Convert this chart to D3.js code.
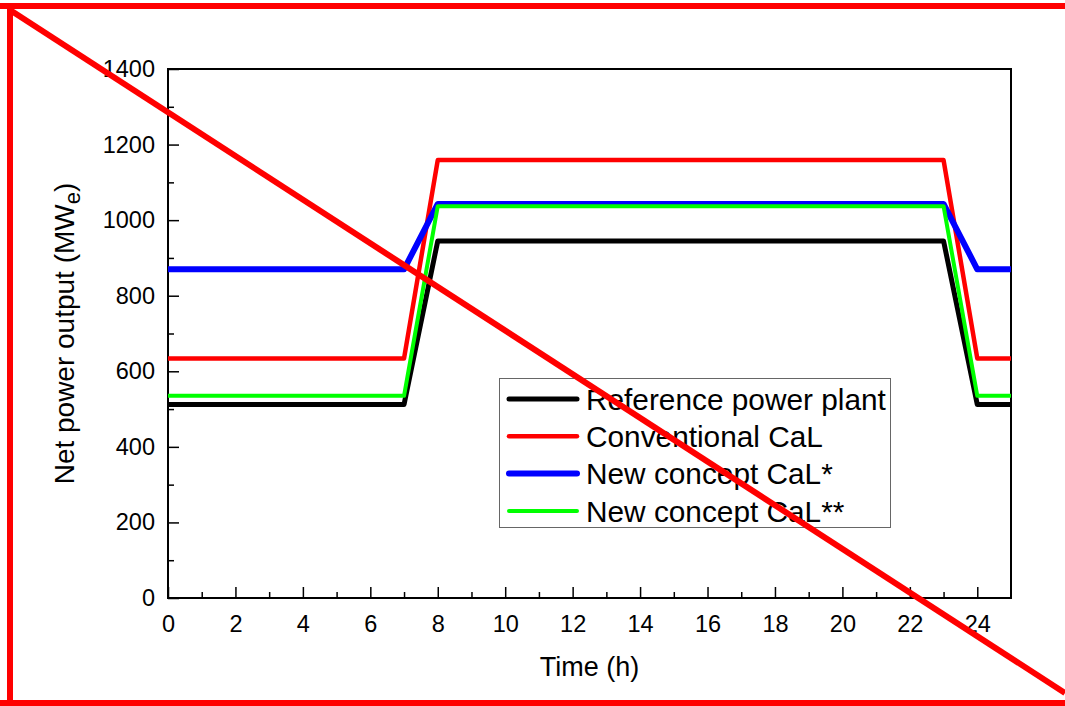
<!DOCTYPE html>
<html>
<head>
<meta charset="utf-8">
<script src="https://cdn.jsdelivr.net/npm/d3@7"></script>
<style>
  body { margin: 0; background: #fff; }
  svg { display: block; font-family: Arial, "Liberation Sans", sans-serif; }
</style>
</head>
<body>
<svg id="chart" width="1065" height="706"></svg>
<script>
// data
const hours = [0, 7, 8, 23, 24, 25];
const referencePlant = [512, 512, 945, 945, 512, 512];
const conventionalCaL = [634, 634, 1159, 1159, 634, 634];
const newConceptCaL1 = [870, 870, 1043, 1043, 870, 870];
const newConceptCaL2 = [535, 535, 1037, 1037, 535, 535];

const seriesNames = ['Reference power plant', 'Conventional CaL', 'New concept CaL*', 'New concept CaL**'];
const seriesColors = ['#000000', '#ff0000', '#0000ff', '#00ff00'];
const seriesWidths = [5, 4.5, 6, 4];
const seriesValues = [referencePlant, conventionalCaL, newConceptCaL1, newConceptCaL2];

const xTicks = [0, 2, 4, 6, 8, 10, 12, 14, 16, 18, 20, 22, 24];
const yTicks = [0, 200, 400, 600, 800, 1000, 1200, 1400];

const width = 1065;
const height = 706;
const margin = { top: 69, right: 54, bottom: 108, left: 168 };

const svg = d3.select('#chart');

const x = d3.scaleLinear().domain([0, 25]).range([margin.left, width - margin.right]);
const y = d3.scaleLinear().domain([0, 1400]).range([height - margin.bottom, margin.top]);

// plot frame
svg.append('rect')
  .attr('x', x(0))
  .attr('y', y(1400))
  .attr('width', x(25) - x(0))
  .attr('height', y(0) - y(1400))
  .attr('fill', 'none')
  .attr('stroke', '#000')
  .attr('stroke-width', 2);

// minor ticks
svg.append('g')
  .attr('transform', `translate(0,${y(0)})`)
  .call(d3.axisBottom(x).tickValues(d3.range(1, 25, 2)).tickSize(-6).tickFormat(''))
  .call(g => g.select('.domain').remove())
  .call(g => g.selectAll('line').attr('stroke-width', 1.5));

svg.append('g')
  .attr('transform', `translate(${x(0)},0)`)
  .call(d3.axisLeft(y).tickValues(d3.range(100, 1400, 200)).tickSize(-6).tickFormat(''))
  .call(g => g.select('.domain').remove())
  .call(g => g.selectAll('line').attr('stroke-width', 1.5));

// major ticks
svg.append('g')
  .attr('transform', `translate(0,${y(0)})`)
  .call(d3.axisBottom(x).tickValues(xTicks).tickSize(-11).tickPadding(17).tickFormat(d3.format('d')))
  .call(g => g.select('.domain').remove())
  .call(g => g.selectAll('line').attr('stroke-width', 1.5))
  .call(g => g.selectAll('text').attr('font-size', 23.5).attr('fill', '#000'));

svg.append('g')
  .attr('transform', `translate(${x(0)},0)`)
  .call(d3.axisLeft(y).tickValues(yTicks).tickSize(-11).tickPadding(13).tickFormat(d3.format('d')))
  .call(g => g.select('.domain').remove())
  .call(g => g.selectAll('line').attr('stroke-width', 1.5))
  .call(g => g.selectAll('text').attr('font-size', 23.5).attr('fill', '#000'));

// series lines
const line = d3.line()
  .x((d, i) => x(hours[i]))
  .y(d => y(d));

svg.append('g')
  .selectAll('path')
  .data(seriesValues)
  .enter()
  .append('path')
  .attr('d', d => line(d))
  .attr('fill', 'none')
  .attr('stroke', (d, i) => seriesColors[i])
  .attr('stroke-width', (d, i) => seriesWidths[i])
  .attr('stroke-linejoin', 'round');

// axis titles
svg.append('text')
  .attr('x', (x(0) + x(25)) / 2)
  .attr('y', 676)
  .attr('text-anchor', 'middle')
  .attr('font-size', 27)
  .text('Time (h)');

const yTitle = svg.append('text')
  .attr('transform', `translate(74,${(y(0) + y(1400)) / 2}) rotate(-90)`)
  .attr('text-anchor', 'middle')
  .attr('font-size', 28);
yTitle.append('tspan').text('Net power output (MW');
yTitle.append('tspan').attr('font-size', 22).attr('dy', 6).text('e');
yTitle.append('tspan').attr('dy', -6).text(')');

// legend
const legend = svg.append('g');
legend.append('rect')
  .attr('x', 499.5)
  .attr('y', 378.5)
  .attr('width', 391)
  .attr('height', 149)
  .attr('fill', '#fff')
  .attr('stroke', '#666')
  .attr('stroke-width', 1);

const rows = legend.selectAll('g.row')
  .data(seriesNames)
  .enter()
  .append('g')
  .attr('class', 'row')
  .attr('transform', (d, i) => `translate(0,${399 + i * 37.3})`);

rows.append('line')
  .attr('x1', 509)
  .attr('x2', 577)
  .attr('stroke', (d, i) => seriesColors[i])
  .attr('stroke-width', (d, i) => seriesWidths[i])
  .attr('stroke-linecap', 'round');

rows.append('text')
  .attr('x', 586)
  .attr('dy', '0.36em')
  .attr('font-size', 29.8)
  .text(d => d);

// red frame and cross stroke over the picture
const marks = svg.append('g').attr('stroke', '#ff0000').attr('fill', 'none');
marks.append('line').attr('x1', 0).attr('y1', 6).attr('x2', width).attr('y2', 6).attr('stroke-width', 6);
marks.append('line').attr('x1', 10).attr('y1', 3).attr('x2', 10).attr('y2', height).attr('stroke-width', 6);
marks.append('line').attr('x1', 0).attr('y1', 703).attr('x2', width).attr('y2', 703).attr('stroke-width', 6);
marks.append('line').attr('x1', 10).attr('y1', 10).attr('x2', 1065).attr('y2', 693).attr('stroke-width', 6);
</script>
</body>
</html>
